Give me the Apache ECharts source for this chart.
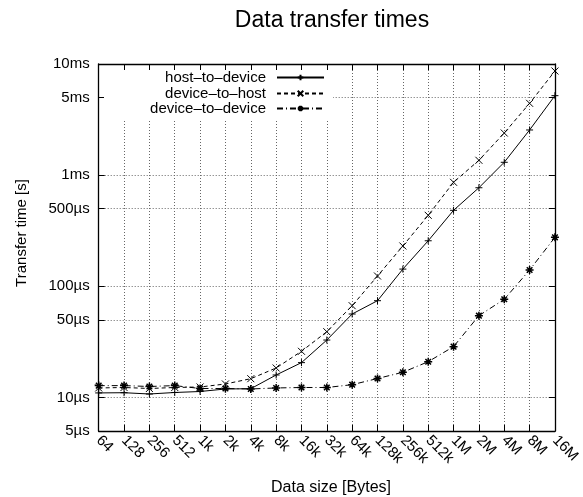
<!DOCTYPE html>
<html>
<head>
<meta charset="utf-8">
<script src="https://cdn.jsdelivr.net/npm/echarts@6/dist/echarts.min.js"></script>
<style>
html,body{margin:0;padding:0;background:#fff;}
#chart{width:583px;height:497px;}
</style>
</head>
<body>
<div id="chart"></div>
<script>
// ---- data (times in seconds) ----
var categories = ['64','128','256','512','1k','2k','4k','8k','16k','32k','64k','128k','256k','512k','1M','2M','4M','8M','16M'];
var hostToDevice = [11.0e-6, 11.05e-6, 10.76e-6, 11.1e-6, 11.33e-6, 11.94e-6, 12.0e-6, 15.95e-6, 20.6e-6, 32.9e-6, 56.4e-6, 74.3e-6, 143e-6, 257e-6, 483e-6, 771e-6, 1.306e-3, 2.55e-3, 5.19e-3];
var deviceToHost = [12.19e-6, 12.31e-6, 12.06e-6, 12.31e-6, 12.44e-6, 13.24e-6, 14.77e-6, 18.44e-6, 26.05e-6, 39.1e-6, 67.0e-6, 123.9e-6, 230.7e-6, 435.6e-6, 863e-6, 1.361e-3, 2.395e-3, 4.43e-3, 8.65e-3];
var deviceToDevice = [12.8e-6, 12.8e-6, 12.57e-6, 12.8e-6, 12.06e-6, 12.06e-6, 11.94e-6, 12.19e-6, 12.31e-6, 12.31e-6, 13.05e-6, 14.83e-6, 16.87e-6, 21.0e-6, 28.7e-6, 54.5e-6, 76.5e-6, 140.3e-6, 276e-6];
var yTickValues = [5e-6, 1e-5, 5e-5, 1e-4, 5e-4, 1e-3, 5e-3, 1e-2];
var yTickLabels = ['5\u00b5s', '10\u00b5s', '50\u00b5s', '100\u00b5s', '500\u00b5s', '1ms', '5ms', '10ms'];
var seriesNames = ['host\u2013to\u2013device', 'device\u2013to\u2013host', 'device\u2013to\u2013device'];

var FONT = 'Liberation Sans, Arial, Helvetica, sans-serif';
var chart = echarts.init(document.getElementById('chart'), null, {renderer: 'canvas'});

function yLabel(v) {
  for (var i = 0; i < yTickValues.length; i++) {
    if (Math.abs(v - yTickValues[i]) / yTickValues[i] < 1e-6) return yTickLabels[i];
  }
  return '';
}

var plusPath = 'path://M0,5L10,5M5,0L5,10';
var crossPath = 'path://M0,0L10,10M0,10L10,0';
var starPath = 'path://M0,5L10,5M5,0L5,10M1.5,1.5L8.5,8.5M1.5,8.5L8.5,1.5';

var gridLineStyle = {color: '#666', width: 1, type: [1, 2]};

var legendRows = [70, 86, 101];
var legends = seriesNames.map(function (n, i) {
  return {
    data: [n],
    orient: 'vertical',
    align: 'right',
    right: 258,
    top: legendRows[i],
    padding: 0,
    itemWidth: 47,
    itemHeight: 7,
    textStyle: {fontFamily: FONT, fontSize: 15, color: '#000', padding: [0, 6, 0, 0]},
    z: 10
  };
});

var option = {
  animation: false,
  backgroundColor: '#fff',
  grid: {left: 98.7, right: 17, top: 64, bottom: 66, containLabel: false},
  legend: legends,
  graphic: [
    {type: 'rect', z: 1, shape: {x: 104, y: 66, width: 229, height: 53}, style: {fill: '#fff'}},
    {type: 'text', z: 10, x: 332, y: 21, style: {text: 'Data transfer times', font: '23px ' + FONT, fill: '#000', align: 'center', verticalAlign: 'middle'}},
    {type: 'text', z: 10, x: 22, y: 233, rotation: Math.PI / 2, style: {text: 'Transfer time [s]', font: '15px ' + FONT, fill: '#000', align: 'center', verticalAlign: 'middle'}},
    {type: 'text', z: 10, x: 331, y: 488, style: {text: 'Data size [Bytes]', font: '16px ' + FONT, fill: '#000', align: 'center', verticalAlign: 'middle'}}
  ],
  xAxis: [
    {
      type: 'category', data: categories, boundaryGap: false, position: 'bottom',
      axisLine: {show: true, lineStyle: {color: '#000', width: 1.3}},
      axisTick: {show: true, inside: true, length: 6, interval: 0, lineStyle: {color: '#000'}},
      axisLabel: {interval: 0, rotate: -45, margin: 7, fontFamily: FONT, fontSize: 15, color: '#000'},
      splitLine: {show: true, interval: 0, lineStyle: gridLineStyle}
    },
    {
      type: 'category', data: categories, boundaryGap: false, position: 'top', z: 5,
      axisLine: {show: true, lineStyle: {color: '#000', width: 1.3}},
      axisTick: {show: true, inside: true, length: 6, interval: 0, lineStyle: {color: '#000'}},
      axisLabel: {show: false},
      splitLine: {show: false}
    }
  ],
  yAxis: [
    {
      type: 'log', logBase: 10, min: 5e-6, max: 1e-2, position: 'left',
      axisLine: {show: true, lineStyle: {color: '#000', width: 1.3}},
      axisTick: {show: true, inside: true, length: 6, customValues: yTickValues, lineStyle: {color: '#000'}},
      axisLabel: {customValues: yTickValues, formatter: yLabel, margin: 9, fontFamily: FONT, fontSize: 15, color: '#000'},
      splitLine: {show: true, lineStyle: gridLineStyle}
    },
    {
      type: 'log', logBase: 10, min: 5e-6, max: 1e-2, position: 'right', z: 5,
      axisLine: {show: true, lineStyle: {color: '#000', width: 1.3}},
      axisTick: {show: true, inside: true, length: 6, customValues: yTickValues, lineStyle: {color: '#000'}},
      axisLabel: {show: false},
      splitLine: {show: false}
    }
  ],
  series: [
    {
      name: seriesNames[0], type: 'line', data: hostToDevice, xAxisIndex: 0, yAxisIndex: 0,
      symbol: plusPath, symbolSize: 7, z: 3,
      lineStyle: {color: '#000', width: 1, type: 'solid'},
      itemStyle: {color: '#000', borderColor: '#000', borderWidth: 1}
    },
    {
      name: seriesNames[1], type: 'line', data: deviceToHost, xAxisIndex: 0, yAxisIndex: 0,
      symbol: crossPath, symbolSize: 7, z: 3,
      lineStyle: {color: '#000', width: 1, type: [4, 3]},
      itemStyle: {color: '#000', borderColor: '#000', borderWidth: 1}
    },
    {
      name: seriesNames[2], type: 'line', data: deviceToDevice, xAxisIndex: 0, yAxisIndex: 0,
      symbol: starPath, symbolSize: 8, z: 3,
      lineStyle: {color: '#000', width: 1, type: [6, 3, 1, 3]},
      itemStyle: {color: '#000', borderColor: '#000', borderWidth: 1.5}
    }
  ]
};
chart.setOption(option);
</script>
</body>
</html>
